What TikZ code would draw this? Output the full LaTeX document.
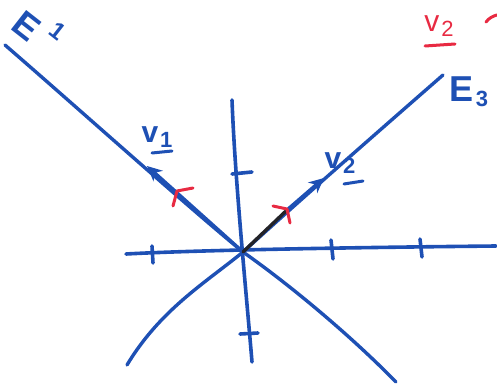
\documentclass[tikz,border=0pt]{standalone}
\usepackage{fontspec}
\setmainfont{Liberation Sans}
\usetikzlibrary{arrows.meta}
\definecolor{pen}{RGB}{30,80,180}
\definecolor{redpen}{RGB}{232,42,66}
\definecolor{blackpen}{RGB}{35,35,40}
\newcommand{\lowsub}[1]{\kern2pt\raisebox{-5pt}{\fontsize{22}{24}\selectfont #1}}
\begin{document}
\begin{tikzpicture}[x=1pt,y=-1pt,line cap=round,line join=round,
  axis/.style={draw=pen,line width=3.6pt},
  eig/.style={draw=pen,line width=3.4pt},
  ticks/.style={draw=pen,line width=3.6pt},
  ang/.style={draw=redpen,line width=3pt},
  vec/.style={eig,-{Stealth[length=15pt,width=14pt]}},
  lbl/.style={text=pen,inner sep=0pt,font=\bfseries\fontsize{30}{32}\selectfont},
  elbl/.style={text=pen,inner sep=0pt,font=\bfseries\fontsize{36}{38}\selectfont},
  esub/.style={text=pen,inner sep=0pt,font=\bfseries\fontsize{24}{26}\selectfont},
  rlbl/.style={text=redpen,inner sep=0pt,font=\fontsize{30}{32}\selectfont},
  uline/.style={line width=3pt}]
\useasboundingbox (0,0) rectangle (497,385);
% key points
\coordinate (O) at (243,252);
\coordinate (xL) at (126,254);
\coordinate (xR) at (496,246);
\coordinate (yT) at (232,100);
\coordinate (yB) at (252,362);
\coordinate (e1a) at (5,45);
\coordinate (e1b) at (396,382);
\coordinate (e3a) at (443,75);
\coordinate (e3b) at (127,365);
\coordinate (v1tip) at (147,166);
\coordinate (v2base) at (287,210);
\coordinate (v2tip) at (324,178);
% axes
\draw[axis] (xL) .. controls (180,251) and (300,248) .. (xR);
\draw[axis] (yT) .. controls (235,180) and (246,290) .. (yB);
% ticks
\draw[ticks] (152,246) -- (153,263);
\draw[ticks] (331,240) -- (333,259);
\draw[ticks] (420,239) -- (422,257);
\draw[ticks] (232,174) -- (252,172);
\draw[ticks] (240,334) -- (258,333);
% eigen lines
\draw[eig] (e1a) .. controls (80,110) and (180,200) .. (O)
  .. controls (290,285) and (350,335) .. (e1b);
\draw[eig] (e3a) .. controls (380,130) and (300,200) .. (O)
  .. controls (205,283) and (160,310) .. (e3b);
% vectors
\draw[vec] (O) -- (v1tip);
\draw[draw=blackpen,line width=3.4pt] (O) -- (v2base);
\draw[vec] (v2base) -- (v2tip);
% right-angle marks
\draw[ang] (193,188) -- (177,191) -- (173,206);
\draw[ang] (273,206) -- (287,209) -- (290,223);
% labels
\node[lbl] (v1lbl) at (157,137) {v\lowsub{1}};
\draw[draw=pen,uline] (152,153) -- (172,151);
\node[lbl] (v2lbl) at (340,163) {v\lowsub{2}};
\draw[draw=pen,uline] (344,184) -- (363,181);
\node[rlbl] (v2red) at (439,26) {v\lowsub{2}};
\draw[draw=redpen,uline] (425,46) -- (455,44);
\draw[ang] (486,22) .. controls (489,18) and (493,16) .. (497,15);
\node[elbl,rotate=-38] (E1) at (27,26) {E};
\node[esub,rotate=-38] (E1sub) at (58,31) {1};
\node[elbl] (E3) at (469,92) {E\lowsub{3}};
\end{tikzpicture}
\end{document}
